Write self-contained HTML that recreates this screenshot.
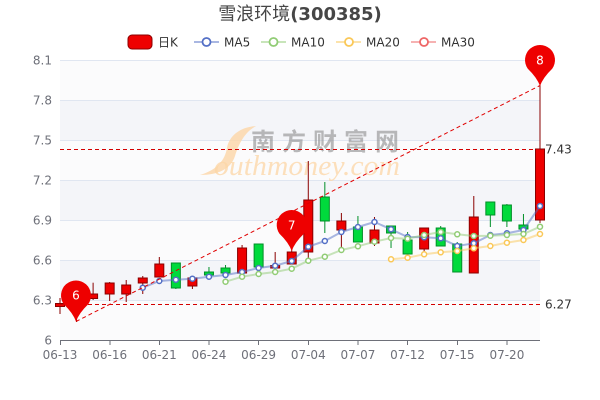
<!DOCTYPE html>
<html>
<head>
<meta charset="utf-8">
<style>
  html,body{margin:0;padding:0;background:#fff;}
  svg{display:block;}
  text{font-family:"DejaVu Sans","Noto Sans CJK SC",sans-serif;}
</style>
</head>
<body>
<svg width="600" height="400" viewBox="0 0 600 400" xmlns="http://www.w3.org/2000/svg">
  <rect x="0" y="0" width="600" height="400" fill="#ffffff"/>

  <!-- Title -->
  <text x="300" y="20" text-anchor="middle" font-size="18" fill="#464646"><tspan font-weight="normal">雪浪环境</tspan><tspan font-weight="bold">(300385)</tspan></text>

  <!-- Legend -->
  <rect x="128" y="35" width="24" height="14" rx="4" ry="4" fill="#ee0000" stroke="#8a0000" stroke-width="1"/>
  <text x="158" y="46.5" font-size="12" fill="#333">日K</text>

  <line x1="194" y1="42" x2="219" y2="42" stroke="#5470c6" stroke-width="2" stroke-opacity="0.5"/>
  <circle cx="206.5" cy="42" r="4" fill="#fff" stroke="#5470c6" stroke-width="1.8"/>
  <text x="224" y="46.5" font-size="12" fill="#333">MA5</text>

  <line x1="261" y1="42" x2="286" y2="42" stroke="#91cc75" stroke-width="2" stroke-opacity="0.5"/>
  <circle cx="273.5" cy="42" r="4" fill="#fff" stroke="#91cc75" stroke-width="1.8"/>
  <text x="291" y="46.5" font-size="12" fill="#333">MA10</text>

  <line x1="336" y1="42" x2="361" y2="42" stroke="#fac858" stroke-width="2" stroke-opacity="0.5"/>
  <circle cx="349" cy="42" r="4" fill="#fff" stroke="#fac858" stroke-width="1.8"/>
  <text x="366" y="46.5" font-size="12" fill="#333">MA20</text>

  <line x1="411" y1="42" x2="436" y2="42" stroke="#ee6666" stroke-width="2" stroke-opacity="0.5"/>
  <circle cx="424" cy="42" r="4" fill="#fff" stroke="#ee6666" stroke-width="1.8"/>
  <text x="441" y="46.5" font-size="12" fill="#333">MA30</text>

  <!-- Split areas -->
  <rect x="60" y="60" width="480" height="40" fill="#fbfbfc"/>
  <rect x="60" y="100" width="480" height="40" fill="#f4f5f9"/>
  <rect x="60" y="140" width="480" height="40" fill="#fbfbfc"/>
  <rect x="60" y="180" width="480" height="40" fill="#f4f5f9"/>
  <rect x="60" y="220" width="480" height="40" fill="#fbfbfc"/>
  <rect x="60" y="260" width="480" height="40" fill="#f4f5f9"/>
  <rect x="60" y="300" width="480" height="40" fill="#fbfbfc"/>

  <!-- Grid lines -->
  <g stroke="#e0e6f1" stroke-width="1">
    <line x1="60" y1="60.5" x2="540" y2="60.5"/>
    <line x1="60" y1="100.5" x2="540" y2="100.5"/>
    <line x1="60" y1="140.5" x2="540" y2="140.5"/>
    <line x1="60" y1="180.5" x2="540" y2="180.5"/>
    <line x1="60" y1="220.5" x2="540" y2="220.5"/>
    <line x1="60" y1="260.5" x2="540" y2="260.5"/>
    <line x1="60" y1="300.5" x2="540" y2="300.5"/>
  </g>

  <!-- Watermark -->
  <path d="M256,126 C240,127 229,136 227,148 C225,160 217,170 200,175 C218,175 231,169 235,156 C239,143 245,132 256,126 Z" fill="#fcd6a6" fill-opacity="0.8"/>
  <text x="251" y="150" font-size="24" font-weight="bold" fill="#8c8c8c" fill-opacity="0.6" textLength="148" lengthAdjust="spacing" font-family="'Noto Sans CJK SC','WenQuanYi Zen Hei',sans-serif">南方财富网</text>
  <text x="214" y="175" font-size="29" font-style="italic" fill="#fcd6a6" fill-opacity="0.75" textLength="186" lengthAdjust="spacingAndGlyphs" style="font-family:'Liberation Serif',serif">outhmoney.com</text>

  <!-- Y axis labels -->
  <g font-size="12" fill="#6e7079" text-anchor="end">
    <text x="52" y="64.4">8.1</text>
    <text x="52" y="104.4">7.8</text>
    <text x="52" y="144.4">7.5</text>
    <text x="52" y="184.4">7.2</text>
    <text x="52" y="224.4">6.9</text>
    <text x="52" y="264.4">6.6</text>
    <text x="52" y="304.4">6.3</text>
    <text x="52" y="344.4">6</text>
  </g>

  <!-- X axis -->
  <line x1="60" y1="340.5" x2="540" y2="340.5" stroke="#6e7079" stroke-width="1"/>
  <g stroke="#6e7079" stroke-width="1">
    <line x1="60.5" y1="340" x2="60.5" y2="345"/>
    <line x1="110" y1="340" x2="110" y2="345"/>
    <line x1="159.5" y1="340" x2="159.5" y2="345"/>
    <line x1="209" y1="340" x2="209" y2="345"/>
    <line x1="258.5" y1="340" x2="258.5" y2="345"/>
    <line x1="308.5" y1="340" x2="308.5" y2="345"/>
    <line x1="358" y1="340" x2="358" y2="345"/>
    <line x1="407.5" y1="340" x2="407.5" y2="345"/>
    <line x1="457.5" y1="340" x2="457.5" y2="345"/>
    <line x1="507" y1="340" x2="507" y2="345"/>
  </g>
  <g font-size="12" fill="#6e7079" text-anchor="middle">
    <text x="60" y="359">06-13</text>
    <text x="109.66" y="359">06-16</text>
    <text x="159.31" y="359">06-21</text>
    <text x="208.97" y="359">06-24</text>
    <text x="258.62" y="359">06-29</text>
    <text x="308.28" y="359">07-04</text>
    <text x="357.93" y="359">07-07</text>
    <text x="407.59" y="359">07-12</text>
    <text x="457.24" y="359">07-15</text>
    <text x="506.90" y="359">07-20</text>
  </g>

  <!-- Candles: red (up) -->
  <g stroke="#8a0000" stroke-width="1" fill="#ee0000">
    <line x1="60" y1="298" x2="60" y2="314"/><rect x="55.5" y="303.5" width="9" height="3"/>
    <line x1="76.55" y1="290" x2="76.55" y2="322"/><rect x="72.05" y="293" width="9" height="7"/>
    <line x1="93.1" y1="282.7" x2="93.1" y2="300"/><rect x="88.6" y="294" width="9" height="4.5"/>
    <line x1="109.66" y1="282" x2="109.66" y2="301"/><rect x="105.16" y="283" width="9" height="11"/>
    <line x1="126.21" y1="280" x2="126.21" y2="302"/><rect x="121.71" y="285" width="9" height="9"/>
    <line x1="142.76" y1="276" x2="142.76" y2="294"/><rect x="138.26" y="278" width="9" height="5"/>
    <line x1="159.31" y1="257" x2="159.31" y2="277"/><rect x="154.81" y="264" width="9" height="13"/>
    <line x1="192.41" y1="278" x2="192.41" y2="289"/><rect x="187.91" y="278" width="9" height="8"/>
    <line x1="242.07" y1="245" x2="242.07" y2="273"/><rect x="237.57" y="248" width="9" height="25"/>
    <line x1="275.17" y1="252" x2="275.17" y2="268"/><rect x="270.67" y="265.5" width="9" height="2.5"/>
    <line x1="291.72" y1="247" x2="291.72" y2="264"/><rect x="287.22" y="252" width="9" height="12"/>
    <line x1="308.28" y1="161" x2="308.28" y2="258"/><rect x="303.78" y="200" width="9" height="52"/>
    <line x1="341.38" y1="213" x2="341.38" y2="247"/><rect x="336.88" y="221" width="9" height="9"/>
    <line x1="374.48" y1="217" x2="374.48" y2="246"/><rect x="369.98" y="230" width="9" height="13"/>
    <line x1="424.14" y1="228" x2="424.14" y2="252"/><rect x="419.64" y="228" width="9" height="21"/>
    <line x1="473.79" y1="196" x2="473.79" y2="273"/><rect x="469.29" y="217" width="9" height="56"/>
    <line x1="540" y1="85" x2="540" y2="223"/><rect x="535.5" y="149" width="9" height="71"/>
  </g>
  <!-- Candles: green (down) -->
  <g stroke="#008f28" stroke-width="1" fill="#00da3c">
    <line x1="175.86" y1="263" x2="175.86" y2="289"/><rect x="171.36" y="263" width="9" height="25"/>
    <line x1="208.97" y1="267" x2="208.97" y2="275"/><rect x="204.47" y="272" width="9" height="3"/>
    <line x1="225.52" y1="265" x2="225.52" y2="273"/><rect x="221.02" y="268" width="9" height="5"/>
    <line x1="258.62" y1="244" x2="258.62" y2="267"/><rect x="254.12" y="244" width="9" height="23"/>
    <line x1="324.83" y1="182" x2="324.83" y2="233"/><rect x="320.33" y="197" width="9" height="24"/>
    <line x1="357.93" y1="216" x2="357.93" y2="242"/><rect x="353.43" y="227" width="9" height="15"/>
    <line x1="391.03" y1="226" x2="391.03" y2="248"/><rect x="386.53" y="226" width="9" height="7"/>
    <line x1="407.59" y1="232" x2="407.59" y2="254"/><rect x="403.09" y="240" width="9" height="14"/>
    <line x1="440.69" y1="226" x2="440.69" y2="246"/><rect x="436.19" y="228" width="9" height="18"/>
    <line x1="457.24" y1="242" x2="457.24" y2="272"/><rect x="452.74" y="244" width="9" height="28"/>
    <line x1="490.34" y1="202" x2="490.34" y2="227"/><rect x="485.84" y="202" width="9" height="13"/>
    <line x1="506.9" y1="204" x2="506.9" y2="227"/><rect x="502.4" y="205" width="9" height="16"/>
    <line x1="523.45" y1="214" x2="523.45" y2="229"/><rect x="518.95" y="225" width="9" height="4"/>
  </g>

  <!-- MA lines -->
  <polyline fill="none" stroke="#5470c6" stroke-width="2" stroke-opacity="0.5" stroke-linejoin="round"
    points="142.76,287.7 159.31,281 175.86,279.7 192.41,278.7 208.97,276.7 225.52,275 242.07,272 258.62,268 275.17,265.7 291.72,261 308.28,246.7 324.83,241 341.38,232 357.93,227 374.48,222 391.03,229.3 407.59,237 424.14,237.3 440.69,238.3 457.24,246 473.79,243.3 490.34,235 506.9,233.3 523.45,230 540,206"/>
  <polyline fill="none" stroke="#91cc75" stroke-width="2" stroke-opacity="0.5" stroke-linejoin="round"
    points="225.52,281.7 242.07,276.7 258.62,274 275.17,272 291.72,268.7 308.28,260.7 324.83,256.7 341.38,250 357.93,246.3 374.48,241.7 391.03,238 407.59,238.7 424.14,235 440.69,232 457.24,234.3 473.79,236 490.34,235.7 506.9,235 523.45,234 540,226.7"/>
  <polyline fill="none" stroke="#fac858" stroke-width="2" stroke-opacity="0.5" stroke-linejoin="round"
    points="391.03,259.3 407.59,257.7 424.14,254.3 440.69,252.3 457.24,251 473.79,248.3 490.34,246 506.9,242.7 523.45,240 540,234"/>

  <!-- MA symbols -->
  <g fill="#fff" stroke="#5470c6" stroke-width="1.5">
    <circle cx="142.76" cy="287.7" r="2.5"/><circle cx="159.31" cy="281" r="2.5"/><circle cx="175.86" cy="279.7" r="2.5"/><circle cx="192.41" cy="278.7" r="2.5"/><circle cx="208.97" cy="276.7" r="2.5"/><circle cx="225.52" cy="275" r="2.5"/><circle cx="242.07" cy="272" r="2.5"/><circle cx="258.62" cy="268" r="2.5"/><circle cx="275.17" cy="265.7" r="2.5"/><circle cx="291.72" cy="261" r="2.5"/><circle cx="308.28" cy="246.7" r="2.5"/><circle cx="324.83" cy="241" r="2.5"/><circle cx="341.38" cy="232" r="2.5"/><circle cx="357.93" cy="227" r="2.5"/><circle cx="374.48" cy="222" r="2.5"/><circle cx="391.03" cy="229.3" r="2.5"/><circle cx="407.59" cy="237" r="2.5"/><circle cx="424.14" cy="237.3" r="2.5"/><circle cx="440.69" cy="238.3" r="2.5"/><circle cx="457.24" cy="246" r="2.5"/><circle cx="473.79" cy="243.3" r="2.5"/><circle cx="490.34" cy="235" r="2.5"/><circle cx="506.9" cy="233.3" r="2.5"/><circle cx="523.45" cy="230" r="2.5"/><circle cx="540" cy="206" r="2.5"/>
  </g>
  <g fill="#fff" stroke="#91cc75" stroke-width="1.5">
    <circle cx="225.52" cy="281.7" r="2.5"/><circle cx="242.07" cy="276.7" r="2.5"/><circle cx="258.62" cy="274" r="2.5"/><circle cx="275.17" cy="272" r="2.5"/><circle cx="291.72" cy="268.7" r="2.5"/><circle cx="308.28" cy="260.7" r="2.5"/><circle cx="324.83" cy="256.7" r="2.5"/><circle cx="341.38" cy="250" r="2.5"/><circle cx="357.93" cy="246.3" r="2.5"/><circle cx="374.48" cy="241.7" r="2.5"/><circle cx="391.03" cy="238" r="2.5"/><circle cx="407.59" cy="238.7" r="2.5"/><circle cx="424.14" cy="235" r="2.5"/><circle cx="440.69" cy="232" r="2.5"/><circle cx="457.24" cy="234.3" r="2.5"/><circle cx="473.79" cy="236" r="2.5"/><circle cx="490.34" cy="235.7" r="2.5"/><circle cx="506.9" cy="235" r="2.5"/><circle cx="523.45" cy="234" r="2.5"/><circle cx="540" cy="226.7" r="2.5"/>
  </g>
  <g fill="#fff" stroke="#fac858" stroke-width="1.5">
    <circle cx="391.03" cy="259.3" r="2.5"/><circle cx="407.59" cy="257.7" r="2.5"/><circle cx="424.14" cy="254.3" r="2.5"/><circle cx="440.69" cy="252.3" r="2.5"/><circle cx="457.24" cy="251" r="2.5"/><circle cx="473.79" cy="248.3" r="2.5"/><circle cx="490.34" cy="246" r="2.5"/><circle cx="506.9" cy="242.7" r="2.5"/><circle cx="523.45" cy="240" r="2.5"/><circle cx="540" cy="234" r="2.5"/>
  </g>

  <!-- Mark lines -->
  <g stroke="#d40000" stroke-width="1" stroke-dasharray="4,3" fill="none">
    <line x1="60" y1="304.5" x2="540" y2="304.5"/>
    <line x1="60" y1="149.5" x2="540" y2="149.5"/>
  </g>
  <line x1="76" y1="321.5" x2="540" y2="85.5" stroke="#e00000" stroke-width="1" stroke-dasharray="4,3"/>
  <text x="545" y="153.5" font-size="12" fill="#333">7.43</text>
  <text x="545" y="308.5" font-size="12" fill="#333">6.27</text>

  <!-- Pins -->
  <path d="M63.8,304.2 A15,15 0 1 1 88.2,304.2 Q79,313 76,321.5 Q73,313 63.8,304.2 Z" fill="#ee0000"/>
  <text x="76" y="299.5" font-size="12" fill="#fff" text-anchor="middle">6</text>

  <path d="M279.5,233.7 A15,15 0 1 1 303.9,233.7 Q294.7,242.5 291.7,251 Q288.7,242.5 279.5,233.7 Z" fill="#ee0000"/>
  <text x="291.7" y="229.5" font-size="12" fill="#fff" text-anchor="middle">7</text>

  <path d="M527.8,68.7 A15,15 0 1 1 552.2,68.7 Q543,77.5 540,86 Q537,77.5 527.8,68.7 Z" fill="#ee0000"/>
  <text x="540" y="64.5" font-size="12" fill="#fff" text-anchor="middle">8</text>
</svg>
</body>
</html>
